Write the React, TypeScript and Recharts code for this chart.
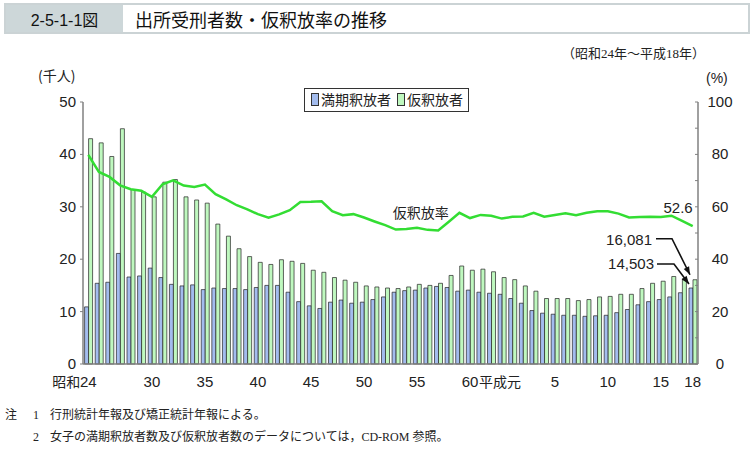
import React from "react";
import { Bar, ComposedChart, LabelList, Legend, Line, XAxis, YAxis } from "recharts";

// 昭和24年〜平成18年
const years = [
  "昭和24", "昭和25", "昭和26", "昭和27", "昭和28", "昭和29", "昭和30", "昭和31", "昭和32", "昭和33",
  "昭和34", "昭和35", "昭和36", "昭和37", "昭和38", "昭和39", "昭和40", "昭和41", "昭和42", "昭和43",
  "昭和44", "昭和45", "昭和46", "昭和47", "昭和48", "昭和49", "昭和50", "昭和51", "昭和52", "昭和53",
  "昭和54", "昭和55", "昭和56", "昭和57", "昭和58", "昭和59", "昭和60", "昭和61", "昭和62", "昭和63",
  "平成元", "平成2", "平成3", "平成4", "平成5", "平成6", "平成7", "平成8", "平成9", "平成10",
  "平成11", "平成12", "平成13", "平成14", "平成15", "平成16", "平成17", "平成18",
];

// 満期釈放者 (千人)
const mankiShakuhou = [
  10.9, 15.4, 15.6, 21.1, 16.6, 16.8, 18.3, 16.5, 15.2, 14.9,
  15.1, 14.2, 14.5, 14.4, 14.4, 14.2, 14.6, 15.0, 15.0, 13.7,
  11.9, 11.1, 10.6, 11.8, 12.2, 11.6, 11.8, 12.3, 12.8, 13.7,
  14.0, 14.1, 14.5, 14.8, 14.6, 13.9, 14.1, 13.7, 13.5, 13.3,
  12.5, 11.6, 10.2, 9.7, 9.5, 9.3, 9.3, 9.1, 9.2, 9.3,
  9.8, 10.4, 11.3, 11.9, 12.3, 12.8, 13.6, 14.503,
];

// 仮釈放者 (千人)
const kariShakuhou = [
  43.0, 42.2, 39.6, 44.9, 33.3, 32.8, 31.9, 34.7, 35.2, 31.9,
  31.3, 30.7, 26.7, 24.4, 22.0, 20.5, 19.4, 19.0, 19.9, 19.6,
  19.2, 17.9, 17.5, 16.5, 16.0, 15.6, 14.9, 14.7, 14.5, 14.4,
  14.7, 15.2, 15.0, 15.4, 16.9, 18.7, 17.9, 18.1, 17.6, 16.5,
  16.1, 14.9, 13.9, 12.5, 12.5, 12.5, 12.1, 12.3, 12.8, 12.9,
  13.3, 13.3, 14.4, 15.4, 15.8, 16.7, 16.3, 16.081,
];

// 仮釈放率 (%)
const kariRate = [
  79.8, 73.3, 71.4, 68.2, 66.7, 66.1, 63.8, 68.6, 70.1, 68.1,
  67.6, 68.5, 64.8, 62.8, 60.6, 59.0, 57.2, 55.8, 57.1, 58.7,
  61.8, 61.9, 62.1, 58.3, 56.8, 57.2, 55.9, 54.4, 53.0, 51.3,
  51.5, 52.0, 51.2, 51.0, 54.3, 57.7, 55.7, 56.9, 56.6, 55.5,
  56.2, 56.3, 57.7, 56.2, 56.9, 57.5, 56.8, 57.7, 58.3, 58.3,
  57.4, 55.9, 56.1, 56.2, 56.1, 56.6, 54.6, 52.6,
];

const tickLabels: Record<string, string> = {
  昭和24: "24", 昭和30: "30", 昭和35: "35", 昭和40: "40", 昭和45: "45", 昭和50: "50",
  昭和55: "55", 昭和60: "60", 平成5: "5", 平成10: "10", 平成15: "15", 平成18: "18",
};

const leftTicks = [0, 10, 20, 30, 40, 50];
const rightTicks = [0, 10, 20, 30, 40, 50, 60, 70, 80, 90, 100];

const data = years.map((year, i) => ({
  year,
  manki: mankiShakuhou[i],
  kari: kariShakuhou[i],
  rate: kariRate[i],
}));

const LAST = years.length - 1;
const RATE_LABEL_AT = 29;

const numFont = "'Liberation Sans', 'Noto Sans CJK JP', sans-serif";
const jpFont = "'Noto Sans CJK JP', 'Liberation Sans', sans-serif";
const serifFont = "'Liberation Serif', 'Noto Sans CJK JP', serif";

const BLUE = "#a3bcee";
const GREEN = "#bff8bf";
const LINE_GREEN = "#33dd33";
const AXIS = "#808080";

function YearTick({ x, y, payload }: any) {
  const label = tickLabels[payload.value];
  if (!label) return <g />;
  const ty = y + 23;
  return (
    <g>
      {payload.value === "昭和24" && (
        <text x={x - 8} y={ty} textAnchor="end" fontSize={14} fontFamily={jpFont} fill="#222">
          昭和
        </text>
      )}
      <text x={x} y={ty} textAnchor="middle" fontSize={15} fontFamily={numFont} fill="#222">
        {label}
      </text>
      {payload.value === "昭和60" && (
        <text x={x + 9} y={ty} textAnchor="start" fontSize={14} fontFamily={jpFont} fill="#222">
          平成元
        </text>
      )}
    </g>
  );
}

function LeftTick({ x, y, payload }: any) {
  return (
    <text x={x} y={y + 5} textAnchor="end" fontSize={15} fontFamily={numFont} fill="#222">
      {payload.value}
    </text>
  );
}

function RightTick({ x, y, payload }: any) {
  if (payload.value % 20 !== 0) return <g />;
  return (
    <text x={x} y={y + 5} textAnchor="middle" fontSize={15} fontFamily={numFont} fill="#222">
      {payload.value}
    </text>
  );
}

function arrowHead(fx: number, fy: number, tx: number, ty: number) {
  const a = Math.atan2(ty - fy, tx - fx);
  const len = 8;
  const half = 3;
  const bx = tx - len * Math.cos(a);
  const by = ty - len * Math.sin(a);
  const px = -Math.sin(a) * half;
  const py = Math.cos(a) * half;
  return `${tx},${ty} ${bx + px},${by + py} ${bx - px},${by - py}`;
}

function pos(props: any) {
  const vb = props.viewBox || {};
  return {
    x: props.x ?? vb.x,
    y: props.y ?? vb.y,
  };
}

// 平成18年の仮釈放者数の注記
function KariNote(props: any) {
  if (props.index !== LAST) return <g />;
  const { x, y } = pos(props);
  const tip = [x - 3, y - 5];
  const elbow = [x - 21, y - 41];
  return (
    <g>
      <text x={x - 41} y={y - 35} textAnchor="end" fontSize={15} fontFamily={numFont} fill="#222">
        16,081
      </text>
      <polyline
        points={`${x - 37},${elbow[1]} ${elbow[0]},${elbow[1]} ${tip[0]},${tip[1]}`}
        fill="none"
        stroke="#111"
        strokeWidth={1.6}
      />
      <polygon points={arrowHead(elbow[0], elbow[1], tip[0], tip[1])} fill="#111" />
    </g>
  );
}

// 平成18年の満期釈放者数の注記
function MankiNote(props: any) {
  if (props.index !== LAST) return <g />;
  const { x, y } = pos(props);
  const tip = [x, y - 4];
  const elbow = [x - 15, y - 24];
  return (
    <g>
      <text x={x - 35} y={y - 19} textAnchor="end" fontSize={15} fontFamily={numFont} fill="#222">
        14,503
      </text>
      <polyline
        points={`${x - 32},${elbow[1]} ${elbow[0]},${elbow[1]} ${tip[0]},${tip[1]}`}
        fill="none"
        stroke="#111"
        strokeWidth={1.6}
      />
      <polygon points={arrowHead(elbow[0], elbow[1], tip[0], tip[1])} fill="#111" />
    </g>
  );
}

function RateNote(props: any) {
  const { x, y } = pos(props);
  if (props.index === LAST) {
    return (
      <text x={x} y={y - 13} textAnchor="end" fontSize={15} fontFamily={numFont} fill="#222">
        {props.value}
      </text>
    );
  }
  if (props.index === RATE_LABEL_AT) {
    return (
      <text x={x - 3} y={y - 12} textAnchor="start" fontSize={14} fontFamily={jpFont} fill="#222">
        仮釈放率
      </text>
    );
  }
  return <g />;
}

function LegendBox() {
  const swatch = (color: string) => (
    <span
      style={{
        display: "inline-block",
        width: 6,
        height: 11,
        background: color,
        border: "1px solid #333",
        marginRight: 2,
        verticalAlign: "-1px",
      }}
    />
  );
  return (
    <div
      style={{
        border: "1px solid #333",
        background: "#fff",
        padding: "1px 5px 2px 6px",
        fontFamily: jpFont,
        fontSize: 14,
        lineHeight: "19px",
        color: "#222",
        whiteSpace: "nowrap",
      }}
    >
      {swatch(BLUE)}
      満期釈放者
      <span style={{ display: "inline-block", width: 6 }} />
      {swatch(GREEN)}
      仮釈放者
    </div>
  );
}

export default function App() {
  return (
    <div
      style={{
        position: "absolute",
        left: 0,
        top: 0,
        width: 754,
        height: 462,
        background: "#fff",
        overflow: "hidden",
      }}
    >
      {/* 見出し */}
      <div
        style={{
          position: "absolute",
          left: 4,
          top: 3,
          width: 746,
          height: 31,
          boxSizing: "border-box",
          border: "2px solid #cbd3d5",
          display: "flex",
          alignItems: "stretch",
        }}
      >
        <div
          style={{
            width: 117,
            background: "#cdd7d9",
            fontFamily: numFont,
            fontSize: 16,
            color: "#111",
            display: "flex",
            alignItems: "center",
            justifyContent: "center",
          }}
        >
          2-5-1-1図
        </div>
        <div
          style={{
            flex: 1,
            paddingLeft: 12,
            fontFamily: jpFont,
            fontSize: 18,
            color: "#111",
            display: "flex",
            alignItems: "center",
          }}
        >
          出所受刑者数・仮釈放率の推移
        </div>
      </div>

      <div
        style={{
          position: "absolute",
          right: 49,
          top: 43,
          fontFamily: serifFont,
          fontSize: 13,
          color: "#222",
        }}
      >
        （昭和24年～平成18年）
      </div>

      <div style={{ position: "absolute", left: 38, top: 65, fontFamily: jpFont, fontSize: 14, color: "#222" }}>
        (千人)
      </div>
      <div style={{ position: "absolute", left: 706, top: 70, fontFamily: numFont, fontSize: 14, color: "#222" }}>
        (%)
      </div>

      <div style={{ position: "absolute", left: 0, top: 0 }}>
        <ComposedChart
          width={754}
          height={462}
          data={data}
          margin={{ top: 102, right: 6, bottom: 68, left: 43 }}
          barCategoryGap="15%"
          barGap={0}
        >
          <XAxis
            dataKey="year"
            interval={0}
            tickLine={false}
            tickSize={0}
            tickMargin={0}
            height={30}
            axisLine={{ stroke: AXIS, strokeWidth: 1.5 }}
            tick={<YearTick />}
          />
          <YAxis
            yAxisId="left"
            domain={[0, 50]}
            ticks={leftTicks}
            width={40}
            tickSize={3}
            tickMargin={4}
            axisLine={{ stroke: AXIS, strokeWidth: 1.5 }}
            tickLine={{ stroke: AXIS }}
            tick={<LeftTick />}
          />
          <YAxis
            yAxisId="right"
            orientation="right"
            domain={[0, 100]}
            ticks={rightTicks}
            width={50}
            tickSize={-3}
            tickMargin={25}
            axisLine={{ stroke: AXIS, strokeWidth: 1.5 }}
            tickLine={{ stroke: AXIS }}
            tick={<RightTick />}
          />
          <Legend
            verticalAlign="middle"
            align="center"
            content={() => <LegendBox />}
            wrapperStyle={{ left: 304, top: 88, width: "auto" }}
          />
          <Bar
            yAxisId="left"
            dataKey="manki"
            name="満期釈放者"
            fill={BLUE}
            stroke="#222"
            strokeWidth={0.7}
            isAnimationActive={false}
          >
            <LabelList dataKey="manki" content={<MankiNote />} />
          </Bar>
          <Bar
            yAxisId="left"
            dataKey="kari"
            name="仮釈放者"
            fill={GREEN}
            stroke="#222"
            strokeWidth={0.7}
            isAnimationActive={false}
          >
            <LabelList dataKey="kari" content={<KariNote />} />
          </Bar>
          <Line
            yAxisId="right"
            type="linear"
            dataKey="rate"
            name="仮釈放率"
            stroke={LINE_GREEN}
            strokeWidth={2.5}
            dot={false}
            isAnimationActive={false}
          >
            <LabelList dataKey="rate" content={<RateNote />} />
          </Line>
        </ComposedChart>
      </div>

      {/* 注 */}
      <div style={{ position: "absolute", left: 5, top: 404, fontFamily: serifFont, fontSize: 12, color: "#222", lineHeight: "22px" }}>
        <div>
          <span style={{ display: "inline-block", width: 28 }}>注</span>
          <span style={{ display: "inline-block", width: 17 }}>1</span>
          行刑統計年報及び矯正統計年報による。
        </div>
        <div>
          <span style={{ display: "inline-block", width: 28 }} />
          <span style={{ display: "inline-block", width: 17 }}>2</span>
          女子の満期釈放者数及び仮釈放者数のデータについては，CD-ROM 参照。
        </div>
      </div>
    </div>
  );
}
